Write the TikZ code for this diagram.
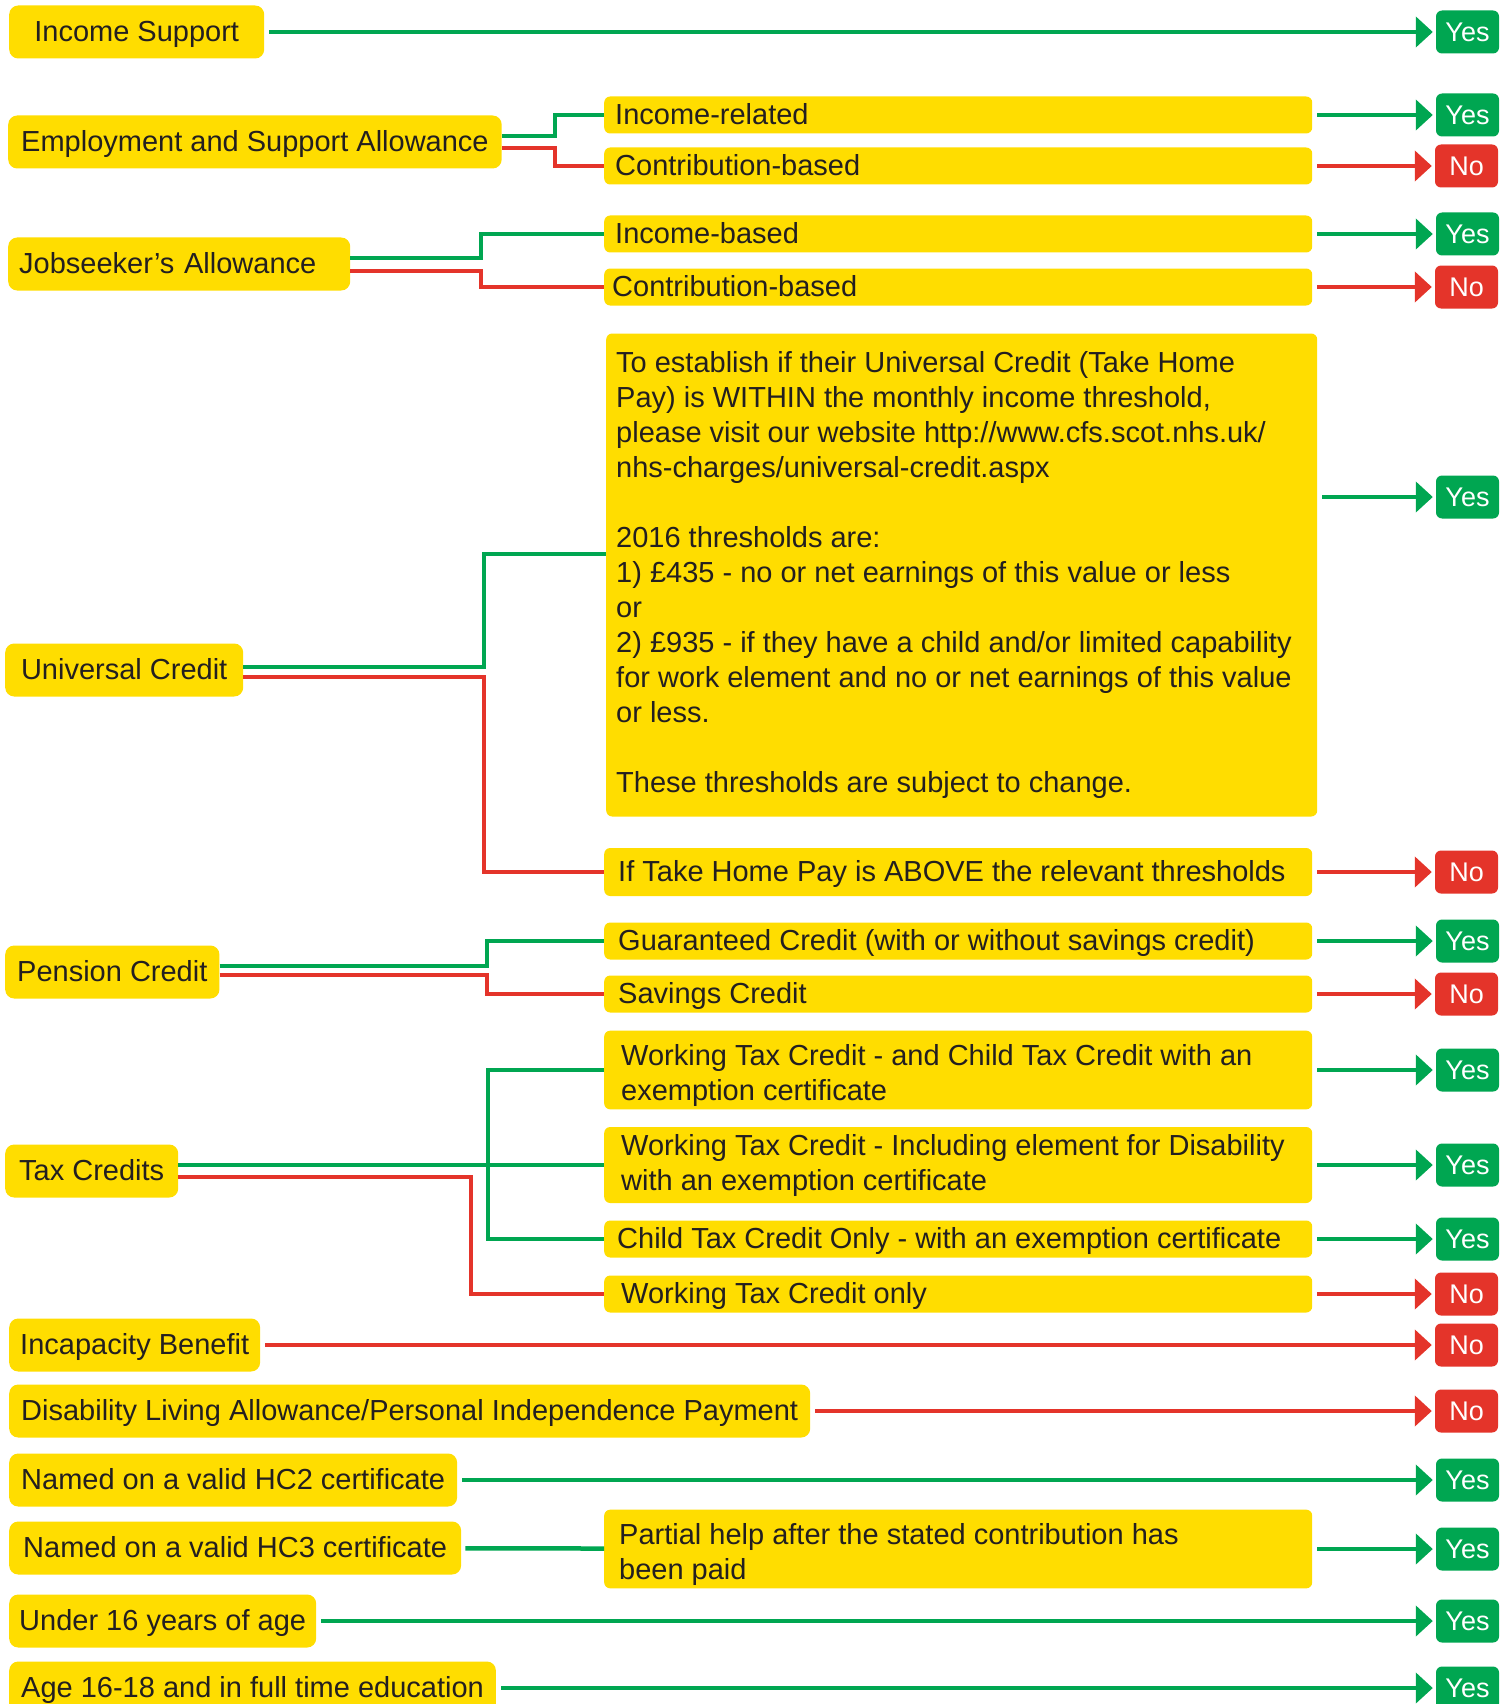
\documentclass[tikz,border=0pt]{standalone}
\usepackage{fontspec}
\setmainfont{Liberation Sans}
\usetikzlibrary{arrows.meta,positioning}
\definecolor{boxyellow}{RGB}{255,221,0}
\definecolor{okgreen}{RGB}{0,166,81}
\definecolor{nored}{RGB}{228,52,42}
\definecolor{inkgray}{RGB}{35,31,32}
\tikzset{
  benefit/.style={fill=boxyellow, rounded corners=9pt, anchor=west, text=inkgray,
    text height=23pt, text depth=4pt, inner xsep=12pt, inner ysep=13pt},
  subbox/.style={fill=boxyellow, rounded corners=6pt, anchor=west, text=inkgray,
    text width=686pt, align=flush left, inner xsep=11pt, inner ysep=5pt,
    text height=23pt, text depth=4pt},
  subboxtwo/.style={fill=boxyellow, rounded corners=6pt, anchor=west, text=inkgray,
    text width=686pt, align=flush left, inner xsep=11pt, minimum height=76pt},
  yesbox/.style={fill=okgreen, text=white, rounded corners=6pt, minimum width=63pt,
    minimum height=43pt, inner sep=0pt, font=\fontsize{27}{32}\selectfont},
  nobox/.style={yesbox, fill=nored},
  gline/.style={draw=okgreen, line width=4.5pt},
  rline/.style={draw=nored, line width=4.5pt},
  garrow/.style={gline, -{Triangle[length=17pt,width=30pt]}, shorten <=5pt, shorten >=3pt},
  rarrow/.style={rline, -{Triangle[length=17pt,width=30pt]}, shorten <=5pt, shorten >=3pt}
}
\newcommand{\topstrut}{\rule{0pt}{31pt}}
\begin{document}
\begin{tikzpicture}[x=1pt, y=-1pt, font=\fontsize{29}{35}\selectfont]
    \useasboundingbox (0,0) rectangle (1507,1704);
    % Benefits (left column)
    \node[benefit, minimum width=255pt] (isup) at (9,32) {Income Support};
    \node[benefit, inner xsep=13pt] (esa) at (8,142) {Employment and Support Allowance};
    \node[benefit, text width=320pt, inner xsep=11pt, align=left] (jsa) at (8,264) {Jobseeker’s Allowance};
    \node[benefit, minimum width=238pt] (uc) at (5,670) {Universal Credit};
    \node[benefit] (pc) at (5,972) {Pension Credit};
    \node[benefit, inner xsep=14pt] (tc) at (5,1171) {Tax Credits};
    \node[benefit, inner xsep=11pt] (ib) at (9,1345) {Incapacity Benefit};
    \node[benefit] (dla) at (9,1411) {Disability Living Allowance/Personal Independence Payment};
    \node[benefit] (hctwo) at (9,1480) {Named on a valid HC2 certificate};
    \node[benefit, inner xsep=14pt] (hcthree) at (9,1548) {Named on a valid HC3 certificate};
    \node[benefit, inner xsep=10pt] (under) at (9,1621) {Under 16 years of age};
    \node[benefit] (age) at (9,1688) {Age 16-18 and in full time education};
    % Sub-types (middle column)
    \node[subbox] (esainc) at (604,115) {Income-related};
    \node[subbox] (esacon) at (604,166) {Contribution-based};
    \node[subbox] (jsainc) at (604,234) {Income-based};
    \node[subbox, inner xsep=8pt, text width=692pt] (jsacon) at (604,287) {Contribution-based};
    \node[fill=boxyellow, rounded corners=6pt, anchor=west, text=inkgray, align=flush left,
      text width=691pt, inner xsep=10pt, minimum height=483pt] (ucwithin) at (606,575)
      {To establish if their Universal Credit (Take Home\\
       Pay) is WITHIN the monthly income threshold,\\
       please visit our website http://www.cfs.scot.nhs.uk/\\
       nhs-charges/universal-credit.aspx\\[35pt]
       2016 thresholds are:\\
       1) £435 - no or net earnings of this value or less\\
       or\\
       \mbox{2) £935 - if they have a child and/or limited capability}\\
       \mbox{for work element and no or net earnings of this value}\\
       or less.\\[35pt]
       These thresholds are subject to change.};
    \node[subbox, inner xsep=14pt, text width=680pt, minimum height=48pt] (ucabove) at (604,872) {\mbox{If Take Home Pay is ABOVE the relevant thresholds}};
    \node[subbox, inner xsep=14pt, text width=680pt] (pcguar) at (604,941) {\mbox{Guaranteed Credit (with or without savings credit)}};
    \node[subbox, inner xsep=14pt, text width=680pt] (pcsav) at (604,994) {Savings Credit};
    \node[subboxtwo, inner xsep=17pt, text width=674pt] (tcwtc) at (604,1070) {\topstrut\mbox{Working Tax Credit - and Child Tax Credit with an}\\exemption certificate};
    \node[subboxtwo, inner xsep=17pt, text width=674pt] (tcdis) at (604,1165) {\mbox{Working Tax Credit - Including element for Disability}\\with an exemption certificate};
    \node[subbox, inner xsep=13pt, text width=682pt] (tcctc) at (604,1239) {\mbox{Child Tax Credit Only - with an exemption certificate}};
    \node[subbox, inner xsep=17pt, text width=674pt] (tcwonly) at (604,1294) {Working Tax Credit only};
    \node[subboxtwo, inner xsep=15pt, text width=678pt] (hcpart) at (604,1549) {\topstrut\mbox{Partial help after the stated contribution has}\\been paid};
    % Outcomes (right column)
    \node[yesbox] (yisup) at (1467.5,32) {Yes};
    \node[yesbox] (yesainc) at (1467.5,115) {Yes};
    \node[nobox] (nesacon) at (1466.5,166) {No};
    \node[yesbox] (yjsainc) at (1467.5,234) {Yes};
    \node[nobox] (njsacon) at (1466.5,287) {No};
    \node[yesbox] (yucwithin) at (1467.5,497) {Yes};
    \node[nobox] (nucabove) at (1466.5,872) {No};
    \node[yesbox] (ypcguar) at (1467.5,941) {Yes};
    \node[nobox] (npcsav) at (1466.5,994) {No};
    \node[yesbox] (ytcwtc) at (1467.5,1070) {Yes};
    \node[yesbox] (ytcdis) at (1467.5,1165) {Yes};
    \node[yesbox] (ytcctc) at (1467.5,1239) {Yes};
    \node[nobox] (ntcwonly) at (1466.5,1294) {No};
    \node[nobox] (nib) at (1466.5,1345) {No};
    \node[nobox] (ndla) at (1466.5,1411) {No};
    \node[yesbox] (yhctwo) at (1467.5,1480) {Yes};
    \node[yesbox] (yhcpart) at (1467.5,1549) {Yes};
    \node[yesbox] (yunder) at (1467.5,1621) {Yes};
    \node[yesbox] (yage) at (1467.5,1688) {Yes};
    % Junction columns
    \coordinate (esaj) at (555,0);
    \coordinate (jsaj) at (481,0);
    \coordinate (ucj) at (484,0);
    \coordinate (pcj) at (487,0);
    \coordinate (tcj) at (488,0);
    \coordinate (tcr) at (471,0);
    \coordinate (ucin) at ([yshift=21pt]ucwithin.west);
    % Branches
    \draw[gline] ([yshift=6pt]esa.east) -| (esaj |- esainc.west) -- (esainc.west);
    \draw[rline] ([yshift=-6pt]esa.east) -| (esaj |- esacon.west) -- (esacon.west);
    \draw[gline] ([yshift=6pt]jsa.east) -| (jsaj |- jsainc.west) -- (jsainc.west);
    \draw[rline] ([yshift=-7pt]jsa.east) -| (jsaj |- jsacon.west) -- (jsacon.west);
    \draw[gline] ([yshift=3pt]uc.east) -| (ucj |- ucin) -- (ucin);
    \draw[rline] ([yshift=-7pt]uc.east) -| (ucj |- ucabove.west) -- (ucabove.west);
    \draw[gline] ([yshift=6pt]pc.east) -| (pcj |- pcguar.west) -- (pcguar.west);
    \draw[rline] ([yshift=-3pt]pc.east) -| (pcj |- pcsav.west) -- (pcsav.west);
    \draw[gline] ([yshift=6pt]tc.east) -- (tcdis.west);
    \draw[gline] (tcwtc.west) -| (tcj |- tcctc.west) -- (tcctc.west);
    \draw[rline] ([yshift=-6pt]tc.east) -| (tcr |- tcwonly.west) -- (tcwonly.west);
    \draw[gline, shorten <=4pt] (hcthree) -- (hcpart);
    % Outcome arrows
    \draw[garrow] (isup) -- (yisup);
    \draw[garrow] (esainc) -- (yesainc);
    \draw[rarrow] (esacon) -- (nesacon);
    \draw[garrow] (jsainc) -- (yjsainc);
    \draw[rarrow] (jsacon) -- (njsacon);
    \draw[garrow] (ucwithin.east |- yucwithin.west) -- (yucwithin.west);
    \draw[rarrow] (ucabove) -- (nucabove);
    \draw[garrow] (pcguar) -- (ypcguar);
    \draw[rarrow] (pcsav) -- (npcsav);
    \draw[garrow] (tcwtc) -- (ytcwtc);
    \draw[garrow] (tcdis) -- (ytcdis);
    \draw[garrow] (tcctc) -- (ytcctc);
    \draw[rarrow] (tcwonly) -- (ntcwonly);
    \draw[rarrow] (ib) -- (nib);
    \draw[rarrow] (dla) -- (ndla);
    \draw[garrow] (hctwo) -- (yhctwo);
    \draw[garrow] (hcpart) -- (yhcpart);
    \draw[garrow] (under) -- (yunder);
    \draw[garrow] (age) -- (yage);
\end{tikzpicture}
\end{document}
